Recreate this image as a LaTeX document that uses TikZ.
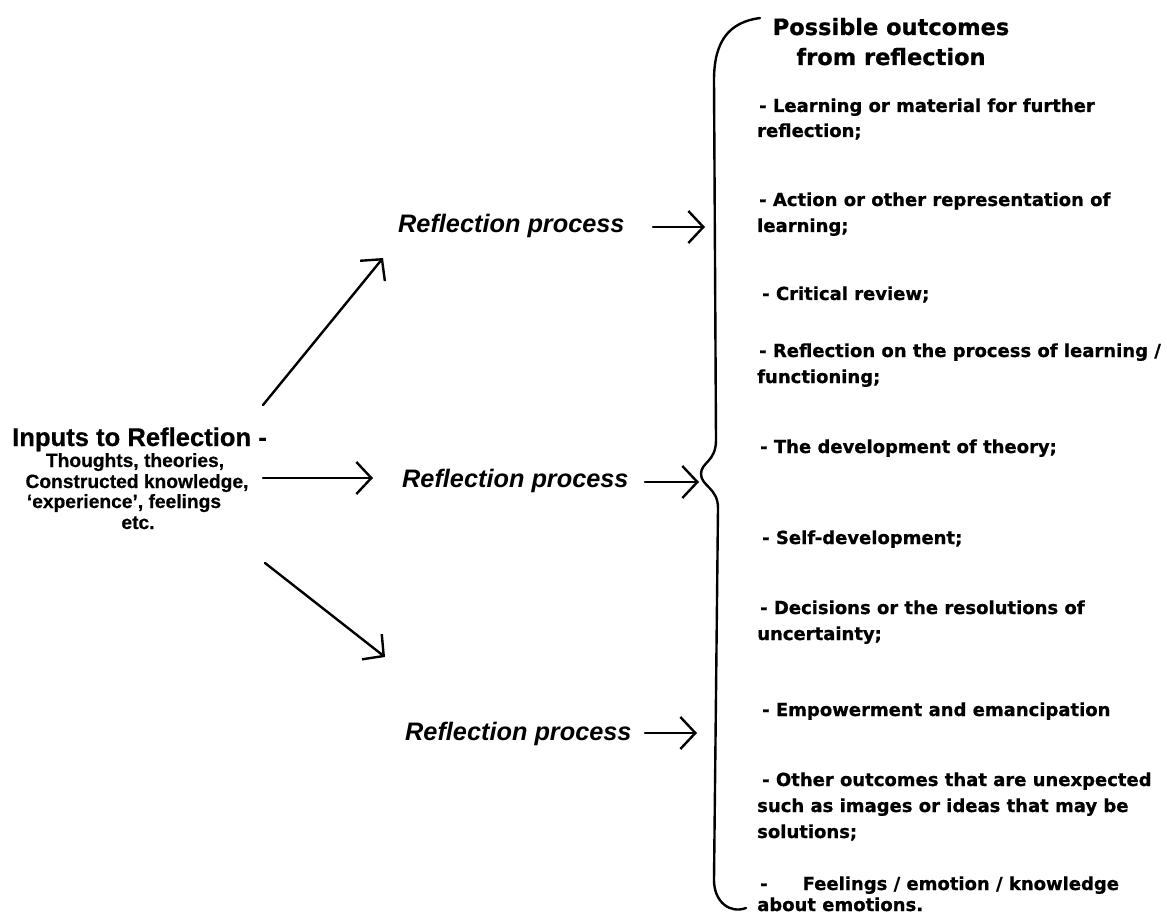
\documentclass[tikz,border=0pt]{standalone}
\usepackage{fontspec}
\setmainfont{Liberation Sans}[BoldFeatures={FakeBold=0.6}]
\newfontfamily\listfont{DejaVu Sans}[BoldFeatures={FakeBold=0.8}]
\usetikzlibrary{arrows.meta}
\begin{document}
\begin{tikzpicture}[x=1pt,y=-1pt,
  lst/.style={anchor=base west, inner sep=0pt, font=\listfont\bfseries\fontsize{18}{22}\selectfont},
  hdr/.style={anchor=base, inner sep=0pt, font=\listfont\bfseries\fontsize{22.5}{26}\selectfont},
  inphead/.style={anchor=base, inner sep=0pt, font=\bfseries\fontsize{25.6}{30}\selectfont},
  inp/.style={anchor=base, inner sep=0pt, font=\bfseries\fontsize{19.2}{22}\selectfont},
  proc/.style={anchor=base west, inner sep=0pt, font=\bfseries\itshape\fontsize{25.3}{30}\selectfont},
  arr/.style={line width=2.4pt, line cap=round, -{Straight Barb[length=15pt,width=32pt,line width=2.4pt]}},
  brace/.style={line width=2.4pt, line cap=round}]
\useasboundingbox[fill=white] (0,0) rectangle (1167,917);

% Inputs
\node[inphead] (inputs) at (139.5,446) {Inputs to Reflection -};
\node[inp] (in1) at (135,467) {Thoughts, theories,};
\node[inp] (in2) at (137,488) {Constructed knowledge,};
\node[inp] (in3) at (124,508) {`experience', feelings};
\node[inp] (in4) at (138,529) {etc.};

% Reflection processes
\node[proc] (p1) at (398,233) {Reflection process};
\node[proc] (p2) at (402,487) {Reflection process};
\node[proc] (p3) at (405,740) {Reflection process};

% arrows from inputs
\coordinate (s1) at (263,405);
\coordinate (e1) at (383,258);
\coordinate (s2) at (263,478);
\coordinate (e2) at (373,478);
\coordinate (s3) at (265,563);
\coordinate (e3) at (385,657);
\draw[arr] (s1) -- (e1);
\draw[arr] (s2) -- (e2);
\draw[arr] (s3) -- (e3);

% arrows to brace
\coordinate (q1) at (653,227);
\coordinate (t1) at (705,227);
\coordinate (q2) at (645,482);
\coordinate (t2) at (699,482);
\coordinate (q3) at (645,733);
\coordinate (t3) at (697,733);
\draw[arr] (q1) -- (t1);
\draw[arr] (q2) -- (t2);
\draw[arr] (q3) -- (t3);

% brace
\draw[brace] (760,18) .. controls (730,22) and (714,40) .. (714,80)
  -- (716,440) .. controls (716,462) and (701,462) .. (701,474)
  .. controls (701,486) and (718,488) .. (718,508)
  -- (714,880) .. controls (714,902) and (730,914) .. (746,908);

% header
\node[hdr] (h1) at (891,35) {Possible outcomes};
\node[hdr] (h2) at (891,65) {from reflection};

% outcomes
\node[lst] (o1a) at (759,112) {- Learning or material for further};
\node[lst] (o1b) at (757,137) {reflection;};
\node[lst] (o2a) at (759,206) {- Action or other representation of};
\node[lst] (o2b) at (757,232) {learning;};
\node[lst] (o3) at (762,300) {- Critical review;};
\node[lst] (o4a) at (759,357) {- Reflection on the process of learning /};
\node[lst] (o4b) at (757,383) {functioning;};
\node[lst] (o5) at (760,453) {- The development of theory;};
\node[lst] (o6) at (762,544) {- Self-development;};
\node[lst] (o7a) at (760,614) {- Decisions or the resolutions of};
\node[lst] (o7b) at (757,640) {uncertainty;};
\node[lst] (o8) at (762,716) {- Empowerment and emancipation};
\node[lst] (o9a) at (762,786) {- Other outcomes that are unexpected};
\node[lst] (o9b) at (757,812) {such as images or ideas that may be};
\node[lst] (o9c) at (757,838) {solutions;};
\node[lst] (o10a) at (760,890) {-\hspace{35pt}Feelings / emotion / knowledge};
\node[lst] (o10b) at (757,911) {about emotions.};
\end{tikzpicture}
\end{document}
